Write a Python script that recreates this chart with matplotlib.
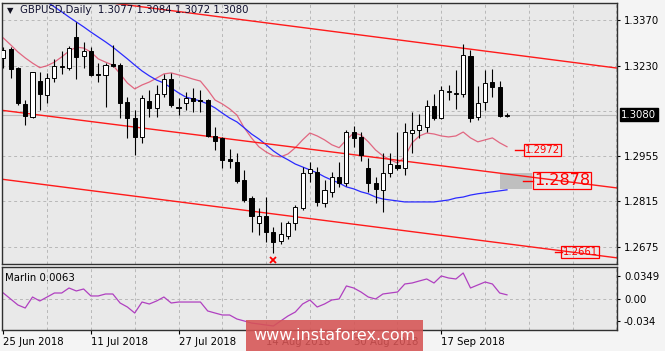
import matplotlib.pyplot as plt
import numpy as np
from matplotlib.patches import Rectangle
import matplotlib.transforms as mtransforms

plt.rcParams['font.family'] = 'DejaVu Sans'
plt.rcParams['font.size'] = 7

# GBPUSD daily candles, 25 Jun 2018 .. 28 Sep 2018
opens = [1.3254, 1.3281, 1.3224, 1.3113, 1.3074, 1.3183, 1.3141, 1.3192, 1.3227, 1.3224,
         1.3318, 1.3260, 1.3275, 1.3205, 1.3202, 1.3235, 1.3232, 1.3119, 1.3070, 1.3012,
         1.3122, 1.3101, 1.3144, 1.3189, 1.3104, 1.3116, 1.3131, 1.3125, 1.3125, 1.3015,
         1.3009, 1.2945, 1.2936, 1.2880, 1.2825, 1.2749, 1.2770, 1.2721, 1.2694, 1.2709,
         1.2749, 1.2795, 1.2902, 1.2905, 1.2810, 1.2843, 1.2889, 1.2871, 1.3027, 1.3012,
         1.2917, 1.2871, 1.2850, 1.2902, 1.2926, 1.2917, 1.3024, 1.3033, 1.3042, 1.3107,
         1.3070, 1.3150, 1.3144, 1.3144, 1.3260, 1.3073, 1.3119, 1.3180, 1.3165, 1.3077]
highs = [1.3287, 1.3287, 1.3227, 1.3125, 1.3211, 1.3211, 1.3208, 1.3251, 1.3275, 1.3290,
         1.3364, 1.3303, 1.3287, 1.3238, 1.3238, 1.3293, 1.3238, 1.3134, 1.3095, 1.3140,
         1.3156, 1.3171, 1.3205, 1.3208, 1.3131, 1.3150, 1.3162, 1.3156, 1.3128, 1.3042,
         1.3012, 1.2975, 1.2963, 1.2911, 1.2831, 1.2795, 1.2828, 1.2736, 1.2752, 1.2755,
         1.2804, 1.2920, 1.2935, 1.2920, 1.2880, 1.2905, 1.2935, 1.3033, 1.3045, 1.3027,
         1.2948, 1.2889, 1.2963, 1.2963, 1.3027, 1.3055, 1.3088, 1.3082, 1.3125, 1.3143,
         1.3168, 1.3171, 1.3217, 1.3296, 1.3278, 1.3168, 1.3217, 1.3220, 1.3183, 1.3084]
lows = [1.3224, 1.3193, 1.3110, 1.3049, 1.3070, 1.3095, 1.3116, 1.3180, 1.3205, 1.3217,
        1.3189, 1.3224, 1.3198, 1.3180, 1.3104, 1.3227, 1.3070, 1.3009, 1.2957, 1.2994,
        1.3073, 1.3073, 1.3134, 1.3104, 1.3079, 1.3095, 1.3088, 1.3088, 1.3012, 1.2972,
        1.2917, 1.2917, 1.2871, 1.2813, 1.2721, 1.2712, 1.2691, 1.2657, 1.2685, 1.2700,
        1.2727, 1.2789, 1.2874, 1.2801, 1.2798, 1.2828, 1.2859, 1.2862, 1.2981, 1.2939,
        1.2843, 1.2810, 1.2782, 1.2889, 1.2911, 1.2896, 1.2963, 1.3009, 1.3027, 1.3064,
        1.3067, 1.3125, 1.3097, 1.3134, 1.3058, 1.3064, 1.3095, 1.3134, 1.3073, 1.3072]
closes = [1.3278, 1.3220, 1.3116, 1.3077, 1.3211, 1.3144, 1.3192, 1.3230, 1.3230, 1.3284,
          1.3257, 1.3275, 1.3202, 1.3203, 1.3232, 1.3229, 1.3116, 1.3070, 1.3012, 1.3131,
          1.3101, 1.3144, 1.3189, 1.3110, 1.3102, 1.3131, 1.3122, 1.3123, 1.3015, 1.2999,
          1.2942, 1.2939, 1.2877, 1.2819, 1.2770, 1.2770, 1.2721, 1.2691, 1.2715, 1.2749,
          1.2798, 1.2902, 1.2914, 1.2813, 1.2850, 1.2889, 1.2871, 1.3027, 1.3009, 1.2957,
          1.2871, 1.2853, 1.2902, 1.2929, 1.2917, 1.3027, 1.3033, 1.3049, 1.3107, 1.3070,
          1.3156, 1.3153, 1.3147, 1.3263, 1.3070, 1.3116, 1.3177, 1.3165, 1.3076, 1.3080]

ma_red = [1.3315, 1.3294, 1.3272, 1.3254, 1.3238, 1.3224, 1.3230, 1.3241, 1.3257, 1.3275,
          1.3287, 1.3284, 1.3272, 1.3251, 1.3241, 1.3232, 1.3205, 1.3177, 1.3159, 1.3171,
          1.3180, 1.3192, 1.3205, 1.3208, 1.3202, 1.3196, 1.3189, 1.3183, 1.3156, 1.3125,
          1.3113, 1.3098, 1.3079, 1.3040, 1.3009, 1.2982, 1.2966, 1.2954, 1.2951, 1.2960,
          1.2979, 1.3003, 1.3024, 1.3015, 1.3003, 1.2988, 1.2979, 1.3003, 1.3024, 1.3018,
          1.2997, 1.2972, 1.2954, 1.2942, 1.2932, 1.2951, 1.2994, 1.3015, 1.3024, 1.3021,
          1.3015, 1.3012, 1.3015, 1.3027, 1.3009, 1.2997, 1.3003, 1.3009, 1.2994, 1.2982]
ma_blue = [np.nan, np.nan, np.nan, np.nan, np.nan, np.nan, 1.3425, 1.3410, 1.3395, 1.3379,
           1.3364, 1.3349, 1.3333, 1.3318, 1.3303, 1.3287, 1.3269, 1.3251, 1.3232, 1.3214,
           1.3199, 1.3186, 1.3177, 1.3162, 1.3147, 1.3134, 1.3128, 1.3122, 1.3113, 1.3101,
           1.3085, 1.3070, 1.3058, 1.3040, 1.3021, 1.3006, 1.2988, 1.2969, 1.2954, 1.2942,
           1.2929, 1.2920, 1.2911, 1.2902, 1.2890, 1.2880, 1.2871, 1.2859, 1.2853, 1.2844,
           1.2838, 1.2828, 1.2822, 1.2819, 1.2816, 1.2813, 1.2813, 1.2813, 1.2813, 1.2813,
           1.2816, 1.2819, 1.2825, 1.2828, 1.2834, 1.2838, 1.2841, 1.2844, 1.2847, 1.2850]
marlin = [0.0091, 0.0000, -0.0091, -0.0137, 0.0030, -0.0030, 0.0030, 0.0091, 0.0091, 0.0167,
          0.0122, 0.0152, 0.0046, 0.0046, 0.0076, 0.0076, -0.0061, -0.0122, -0.0213, -0.0046,
          -0.0076, -0.0030, 0.0030, -0.0061, -0.0046, -0.0046, -0.0046, -0.0046, -0.0182, -0.0213,
          -0.0243, -0.0243, -0.0304, -0.0334, -0.0365, -0.0380, -0.0395, -0.0410, -0.0334, -0.0258,
          -0.0198, -0.0076, -0.0015, -0.0122, -0.0076, -0.0015, 0.0000, 0.0198, 0.0167, 0.0106,
          0.0030, 0.0000, 0.0076, 0.0091, 0.0106, 0.0228, 0.0243, 0.0274, 0.0304, 0.0243,
          0.0350, 0.0319, 0.0304, 0.0395, 0.0167, 0.0213, 0.0258, 0.0228, 0.0091, 0.0063]

date_labels = ['25 Jun 2018', '11 Jul 2018', '27 Jul 2018', '14 Aug 2018', '30 Aug 2018', '17 Sep 2018']
date_idx = [0, 12, 24, 36, 48, 60]
price_ticks = [1.3370, 1.3230, 1.2955, 1.2815, 1.2675]
marlin_ticks = [0.0349, 0.0, -0.034]
marlin_tick_labels = ['0.0349', '0.00', '-0.034']

# channel lines: (bar index, price) pairs
channel_top = [(0, 1.3465), (84, 1.3223)]
channel_mid = [(0, 1.3093), (84, 1.2856)]
channel_bot = [(0, 1.2882), (84, 1.2642)]
level_ma = 1.2972
level_target = 1.2878
level_low = 1.2661
last_price = 1.3080
low_mark = (37, 1.2636)

bg = '#e9e9e9'
fig = plt.figure(figsize=(6.65, 3.51), dpi=100)
fig.patch.set_facecolor('#f4f4f4')
ax = fig.add_axes([2/665, 1-264/351, 615/665, 261/351])
ax2 = fig.add_axes([2/665, 1-330/351, 615/665, 63/351])
xlim = (-0.18, 84.07)

for a in (ax, ax2):
    a.set_facecolor(bg)
    a.set_xlim(*xlim)
    for s in a.spines.values():
        s.set_color('#303030')
        s.set_linewidth(1.0)
    for k in range(6, 85, 6):
        a.axvline(k, color='#b8b8b8', lw=0.7, ls=(0, (3, 3)), zorder=0)

ax.set_ylim(1.2623, 1.3422)
for p in price_ticks + [1.30925]:
    ax.axhline(p, color='#b8b8b8', lw=0.7, ls=(0, (3, 3)), zorder=0)
ax.axhline(last_price, color='#bdbdbd', lw=0.8, zorder=1)

x = np.arange(len(opens))
o = np.array(opens); c = np.array(closes)
ax.vlines(x, lows, highs, color='black', lw=0.8, zorder=3)
body_bot = np.minimum(o, c)
body_h = np.maximum(np.abs(c - o), 0.00003)
colors = ['white' if cc > oo else 'black' for oo, cc in zip(o, c)]
ax.bar(x, body_h, bottom=body_bot, width=0.56, color=colors, edgecolor='black', linewidth=0.7, zorder=4)

ax.plot(x, ma_red, color='#e0506e', lw=0.9, alpha=0.85, zorder=2)
ax.plot(x, ma_blue, color='#2a2aff', lw=0.9, zorder=2)

for line in (channel_top, channel_mid, channel_bot):
    (x0, y0), (x1, y1) = line
    ax.plot([x0, x1], [y0, y1], color='#ff1a1a', lw=1.0, zorder=2)

# marked level of the target
ax.add_patch(Rectangle((68.0, 1.2853), 4.4, 0.0049, facecolor='#bfbfbf', edgecolor='none', zorder=1))
ax.plot([71.2, 72.6], [level_target, level_target], color='red', lw=1, zorder=5)
ax.text(72.7, level_target, '1.2878', color='red', fontsize=11.5, va='center', ha='left', zorder=6,
        bbox=dict(boxstyle='square,pad=0.05', facecolor='none', edgecolor='red', lw=0.9))
ax.plot([70.1, 71.3], [level_ma, level_ma], color='red', lw=1, zorder=5)
ax.text(71.4, level_ma, '1.2972', color='red', fontsize=7.2, va='center', ha='left', zorder=6,
        bbox=dict(boxstyle='square,pad=0.1', facecolor='none', edgecolor='red', lw=0.9))
ax.plot([75.6, 76.5], [level_low, level_low], color='red', lw=1, zorder=5)
ax.text(76.6, level_low, '1.2661', color='red', fontsize=7.2, va='center', ha='left', zorder=6,
        bbox=dict(boxstyle='square,pad=0.1', facecolor='none', edgecolor='red', lw=0.9))
ax.plot(*low_mark, marker='x', color='red', ms=4, mew=1.3, zorder=6)

ax.yaxis.tick_right()
ax.set_yticks(price_ticks)
ax.set_yticklabels(['%.4f' % p for p in price_ticks])
ax.tick_params(axis='y', length=2, pad=3, labelsize=7.3, colors='black')
ax.set_xticks([])
trans = mtransforms.blended_transform_factory(ax.transAxes, ax.transData)
ax.text(1.007, last_price, '1.3080', transform=trans, color='white', fontsize=7.3, va='center', ha='left',
        bbox=dict(boxstyle='square,pad=0.15', facecolor='black', edgecolor='black'), clip_on=False)

ax.text(0.008, 0.972, '\u25bc', transform=ax.transAxes, fontsize=6, va='center', ha='left', color='#101020')
ax.text(0.03, 0.972, 'GBPUSD,Daily  1.3077 1.3084 1.3072 1.3080', transform=ax.transAxes,
        fontsize=7.3, va='center', ha='left', color='#101030')

# indicator pane
ax2.set_ylim(-0.0471, 0.0486)
ax2.axhline(0, color='#b8b8b8', lw=0.7, ls=(0, (3, 3)), zorder=0)
ax2.plot(x, marlin, color='#b040c0', lw=0.9)
ax2.yaxis.tick_right()
ax2.set_yticks(marlin_ticks)
ax2.set_yticklabels(marlin_tick_labels)
ax2.tick_params(axis='y', length=2, pad=3, labelsize=7.3)
ax2.set_xticks(date_idx)
ax2.set_xticklabels(date_labels, ha='left')
ax2.tick_params(axis='x', length=3, pad=2, labelsize=7.3)
ax2.text(0.005, 0.82, 'Marlin 0.0063', transform=ax2.transAxes, fontsize=7.3, va='center', ha='left')

# watermark
fig.patches.append(Rectangle((246/665, 0.0), 177/665, 31/351, transform=fig.transFigure,
                             facecolor='#d65454', alpha=0.88, edgecolor='none', zorder=10))
fig.text(334/665, 1-335/351, 'www.instaforex.com', color='white', fontsize=11.5,
         ha='center', va='center', zorder=11)

fig.savefig('out.png', dpi=100, facecolor=fig.get_facecolor())
